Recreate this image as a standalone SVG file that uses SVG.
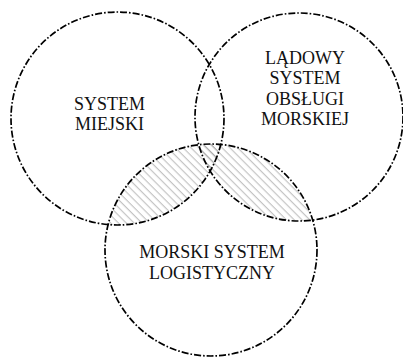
<svg xmlns="http://www.w3.org/2000/svg" width="403" height="357" viewBox="0 0 403 357">
<style>
.ring{fill:none;stroke:#000;stroke-width:1.7;stroke-dasharray:7 2 1.6 2}
.lbl{font-family:"Liberation Serif","Times New Roman",serif;font-size:18px;fill:#111;text-anchor:middle}
.hatch{fill:url(#hatch);stroke:none}
</style>
<defs>
<pattern id="hatch" patternUnits="userSpaceOnUse" width="5.5" height="5.5" patternTransform="rotate(45)">
<line x1="0" y1="2.5" x2="5.5" y2="2.5" stroke="#9a9a9a" stroke-width="0.7"/>
</pattern>
<clipPath id="clipB"><circle cx="211" cy="250" r="106"/></clipPath>
</defs>
<g id="hatching" clip-path="url(#clipB)">
<circle class="hatch" cx="117.5" cy="118.5" r="106.5"/>
<circle class="hatch" cx="299" cy="117" r="104"/>
</g>
<g id="system-miejski">
<circle class="ring" cx="117.5" cy="118.5" r="106.5"/>
<text class="lbl" x="109.5" y="110">SYSTEM</text>
<text class="lbl" x="109.5" y="130">MIEJSKI</text>
</g>
<g id="ladowy-system">
<circle class="ring" cx="299" cy="117" r="104"/>
<text class="lbl" x="305" y="63.5">LĄDOWY</text>
<text class="lbl" x="305" y="84">SYSTEM</text>
<text class="lbl" x="305" y="104.5">OBSŁUGI</text>
<text class="lbl" x="305" y="125">MORSKIEJ</text>
</g>
<g id="morski-system">
<circle class="ring" cx="211" cy="250" r="106"/>
<text class="lbl" x="212" y="258">MORSKI SYSTEM</text>
<text class="lbl" x="212" y="279">LOGISTYCZNY</text>
</g>
</svg>
